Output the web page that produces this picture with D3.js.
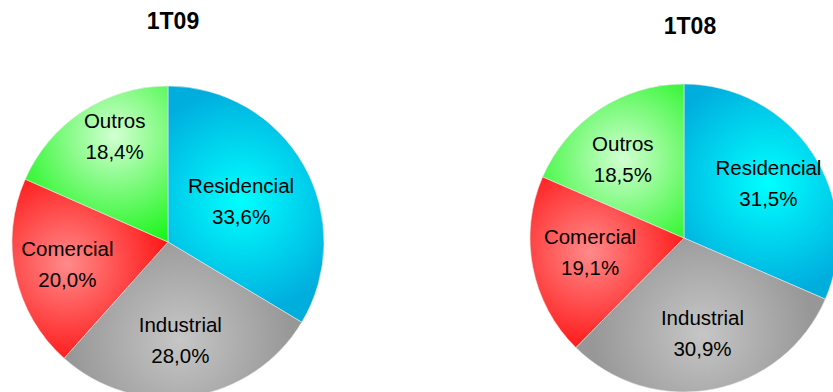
<!DOCTYPE html>
<html>
<head>
<meta charset="utf-8">
<script src="https://cdn.jsdelivr.net/npm/d3@7"></script>
<style>
  body { margin: 0; background: #fff; }
  text { font-family: "Liberation Sans", Arial, sans-serif; }
</style>
</head>
<body>
<script>
let width = 833;
let height = 392;

// data
let categories = ["Residencial", "Industrial", "Comercial", "Outros"];
let titles = ["1T09", "1T08"];
let values1T09 = [33.6, 28.0, 20.0, 18.4];
let values1T08 = [31.5, 30.9, 19.1, 18.5];

// colours: [edge, centre]
let darkColors = ["#00aede", "#979797", "#ff0a0a", "#1ef51e"];
let lightColors = ["#00ffff", "#c6c6c6", "#ff8a8a", "#d2ffd2"];

// layout for each pie (label radius and angular nudge in degrees)
let pies = [
  {title: titles[0], values: values1T09, cx: 168, cy: 242, r: 156, tx: 173, ty: 29,
   labelR: [84, 99, 103, 119], labelShift: [0, 1.5, 0, 6.5]},
  {title: titles[1], values: values1T08, cx: 684, cy: 238, r: 154, tx: 690, ty: 34,
   labelR: [101, 97, 95, 100], labelShift: [0, 0, 2.5, -4.4]}
];

let svg = d3.select("body").append("svg")
            .attr("width", width)
            .attr("height", height);

let defs = svg.append("defs");

let fmt = v => v.toFixed(1).replace(".", ",") + "%";

function labelPos(d, rr, shift) {
  let a = (d.startAngle + d.endAngle) / 2 + shift * Math.PI / 180;
  return [Math.sin(a) * rr, -Math.cos(a) * rr];
}

pies.forEach(function(p, pi) {
  let data = categories.map((c, i) => ({name: c, value: p.values[i], idx: i}));

  let pie = d3.pie()
              .sort(null)
              .value(d => d.value);
  let arcs = pie(data);

  let arc = d3.arc().innerRadius(0).outerRadius(p.r);

  let g = svg.append("g")
             .attr("transform", "translate(" + p.cx + "," + p.cy + ")");

  // one radial gradient per slice, brightest around the label
  arcs.forEach(function(a, i) {
    let c = labelPos(a, p.labelR[i], p.labelShift[i]);
    let grad = defs.append("radialGradient")
                   .attr("id", "g" + pi + "_" + i)
                   .attr("gradientUnits", "userSpaceOnUse")
                   .attr("cx", c[0]).attr("cy", c[1])
                   .attr("r", p.r * 0.72);
    grad.append("stop").attr("offset", "0%").attr("stop-color", lightColors[i]);
    grad.append("stop").attr("offset", "100%").attr("stop-color", darkColors[i]);
  });

  g.selectAll("path")
   .data(arcs)
   .enter().append("path")
   .attr("d", arc)
   .attr("fill", (d, i) => "url(#g" + pi + "_" + i + ")")
   .attr("stroke", "#e8e8e8")
   .attr("stroke-width", 0.6);

  let labels = g.selectAll("text.lbl")
                .data(arcs)
                .enter().append("text")
                .attr("class", "lbl")
                .attr("text-anchor", "middle")
                .attr("font-size", "20.5px")
                .attr("fill", "#000")
                .attr("transform", function(d, i) {
                  let c = labelPos(d, p.labelR[i], p.labelShift[i]);
                  return "translate(" + c[0] + "," + c[1] + ")";
                });

  labels.append("tspan")
        .attr("x", 0).attr("y", -8)
        .text(d => d.data.name);
  labels.append("tspan")
        .attr("x", 0).attr("y", 23)
        .text(d => fmt(d.data.value));

  svg.append("text")
     .attr("x", p.tx).attr("y", p.ty)
     .attr("text-anchor", "middle")
     .attr("font-size", "23px")
     .attr("font-weight", "bold")
     .text(p.title);
});
</script>
</body>
</html>
